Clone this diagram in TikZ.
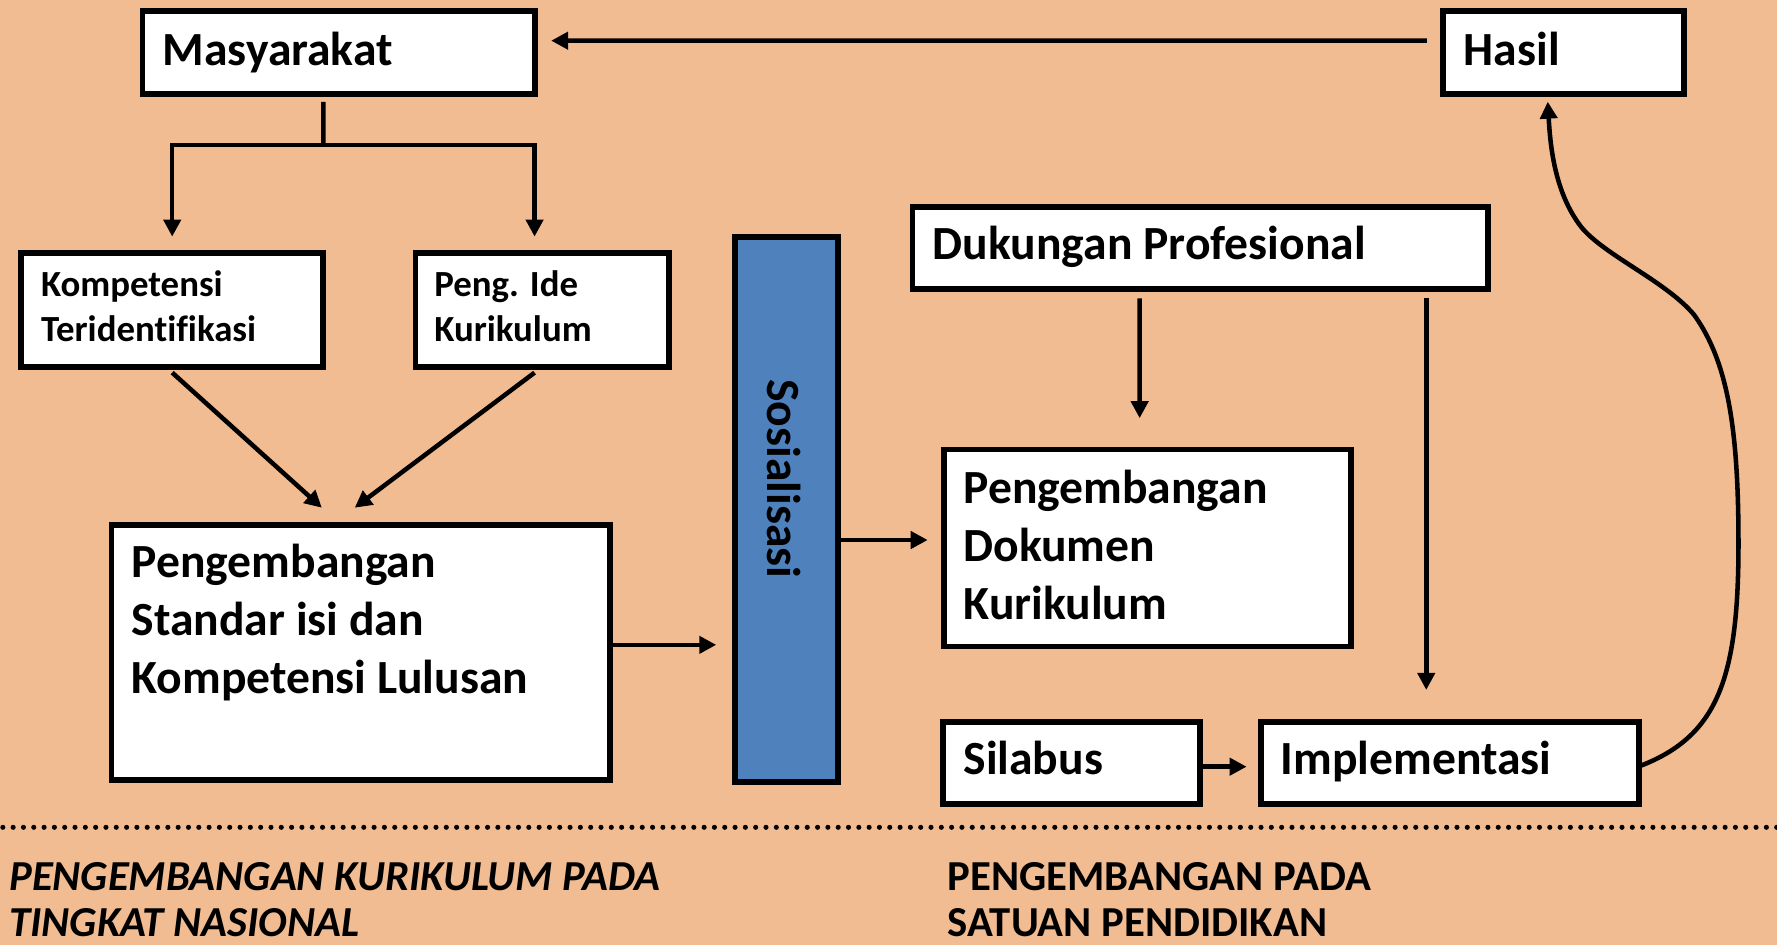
\documentclass[tikz,border=0pt]{standalone}
\usepackage{fontspec}
\setmainfont{Carlito}[Ligatures=NoCommon]
\usetikzlibrary{arrows.meta,calc}
\definecolor{bgpeach}{RGB}{242,188,146}
\definecolor{sosblue}{RGB}{79,129,189}
\begin{document}
\begin{tikzpicture}[x=1pt,y=-1pt,
  box/.style={draw=black, line width=5pt, fill=white, outer sep=0pt, inner sep=0pt},
  arr/.style={line width=4pt, -{Triangle[length=15pt,width=15pt]}},
  plainline/.style={line width=4pt},
  big/.style={font=\bfseries\fontsize{42}{51}\selectfont, inner sep=0pt, anchor=base west, align=left},
  small/.style={font=\bfseries\fontsize{32.5}{39.5}\selectfont, inner sep=0pt, anchor=base west, align=left},
  foot/.style={font=\bfseries\fontsize{37.7}{40.5}\selectfont, inner sep=0pt, anchor=base west, align=left},
]
\fill[bgpeach] (0,0) rectangle (1568,834);
\useasboundingbox (0,0) rectangle (1568,834);

% boxes
\node[box, minimum width=346.2pt, minimum height=72.9pt] (masy) at (298.9,46.35) {};
\node[box, minimum width=213pt, minimum height=73pt] (hasil) at (1379.5,46.5) {};
\node[box, minimum width=266.5pt, minimum height=101pt] (komp) at (151.95,273.5) {};
\node[box, minimum width=224pt, minimum height=101pt] (ide) at (478.5,273.5) {};
\node[box, minimum width=440pt, minimum height=225pt] (std) at (318.5,576) {};
\node[box, fill=sosblue, minimum width=90.7pt, minimum height=480.7pt] (sos) at (693.85,449.65) {};
\node[box, minimum width=507.7pt, minimum height=72.5pt] (duk) at (1059.15,218.75) {};
\node[box, minimum width=359.5pt, minimum height=174pt] (dok) at (1012.55,483.5) {};
\node[box, minimum width=226.8pt, minimum height=72.3pt] (sil) at (945.6,673.15) {};
\node[box, minimum width=334pt, minimum height=72.3pt] (impl) at (1279.5,673.15) {};

% texts (anchor = baseline of the last line)
\node[big] (masy-t) at (143.5,57.4) {Masyarakat};
\node[big] (hasil-t) at (1291.5,57.4) {Hasil};
\node[small] (komp-t) at (36,301.5) {Kompetensi\\Teridentifikasi};
\node[small] (ide-t) at (383,301.5) {Peng. Ide\\Kurikulum};
\node[big] (std-t) at (116,611.8) {Pengembangan\\Standar isi dan\\Kompetensi Lulusan};
\node[big, anchor=base, rotate=-90] (sos-t) at (677,422.5) {Sosialisasi};
\node[big] (duk-t) at (823,229.4) {Dukungan Profesional};
\node[big] (dok-t) at (850,546.5) {Pengembangan\\Dokumen\\Kurikulum};
\node[big] (sil-t) at (850,683.8) {Silabus};
\node[big] (impl-t) at (1130,683.8) {Implementasi};

% connectors
\draw[arr] ($(hasil.west)+(-14,-10.6)$) -- ($(masy.east)+(14.3,-10.45)$);
\coordinate (split) at (285.3,128);
\draw[plainline] ($(masy.south)+(-13.6,7)$) -- (split);
\draw[arr] (split) -| ($(komp.north)+(0,-14.2)$);
\draw[arr] (split) -| ($(ide.north)+(-6.8,-14.2)$);
\draw[arr] ($(komp.south)+(0,4.8)$) -- ($(std.north)+(-34.5,-15.5)$);
\draw[arr] ($(ide.south)+(-6.8,4.8)$) -- ($(std.north)+(-5.5,-15.5)$);
\draw[arr] ($(std.east)+(0,-7)$) -- ($(sos.west)+(-16.5,119.35)$);
\draw[arr] ($(sos.east)+(0,26.85)$) -- ($(dok.west)+(-14.2,-7)$);
\draw[arr] ($(duk.south)+(-53.55,8.2)$) -- ($(dok.north)+(-6.95,-27.5)$);
\draw[arr] ($(duk.south)+(199.35,8.2)$) -- ($(impl.north)+(-21,-28.2)$);
\draw[arr] ($(sil.east)+(0,3.35)$) -- ($(impl.west)+(-12.5,3.35)$);
\draw[arr] ($(impl.east)+(0,3)$) .. controls (1515,650) and (1534,600) .. (1534,480)
  .. controls (1534,380) and (1525,320) .. (1495,278)
  .. controls (1470,248) and (1415,225) .. (1395,200)
  .. controls (1372,170) and (1368,130) .. ($(hasil.south)+(-13.8,6.7)$);

% dotted separator
\draw[line width=4.5pt, line cap=round, dash pattern=on 0pt off 9.1pt] (2.5,730) -- (1568,730);

% footer
\node[foot, font=\bfseries\itshape\fontsize{37.7}{40.5}\selectfont] (foot-l) at (8,826.5) {PENGEMBANGAN KURIKULUM PADA\\TINGKAT NASIONAL};
\node[foot] (foot-r) at (836,826.5) {PENGEMBANGAN PADA\\SATUAN PENDIDIKAN};
\end{tikzpicture}
\end{document}
